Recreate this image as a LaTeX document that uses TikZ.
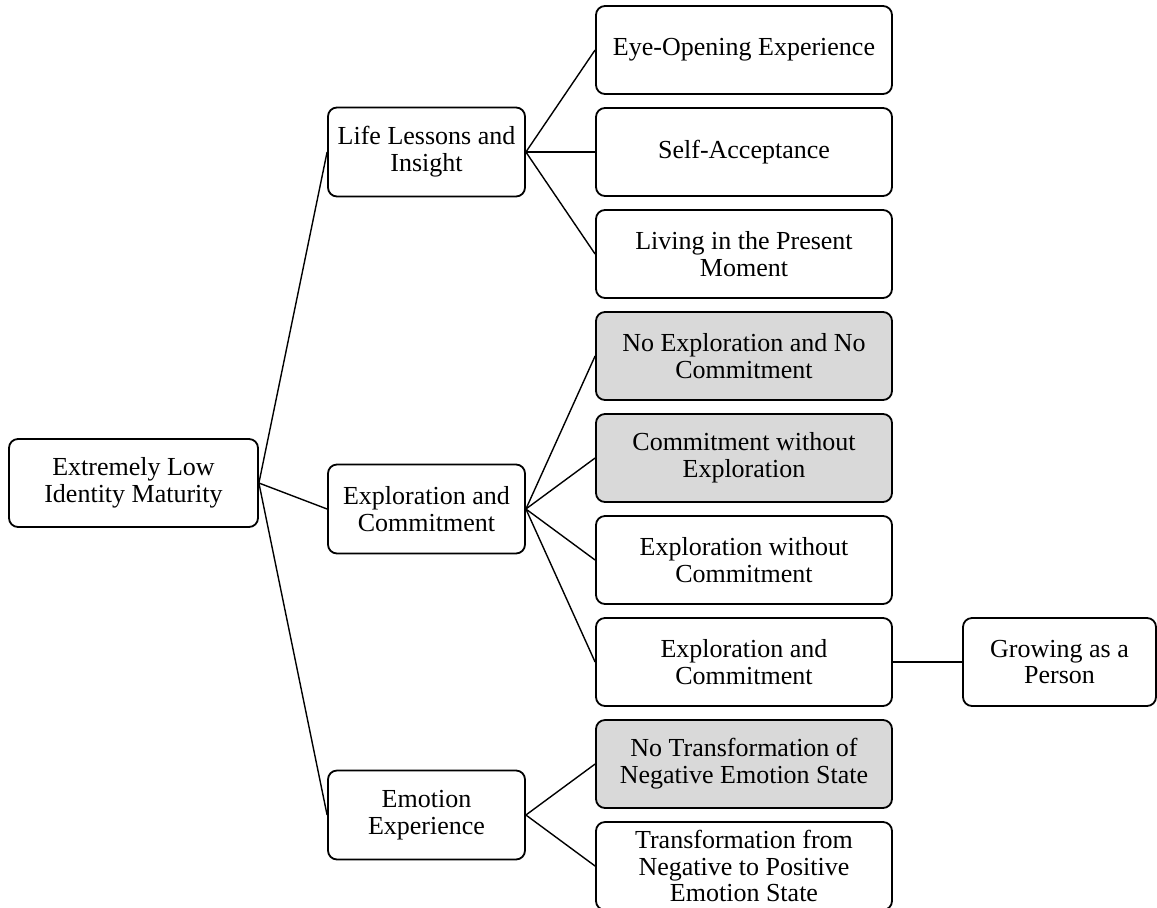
\documentclass[tikz,border=0pt]{standalone}
\usepackage{fontspec}
\setmainfont{Liberation Serif}
\usetikzlibrary{positioning}
\definecolor{shadegray}{RGB}{217, 217, 217}
\tikzstyle{box} = [rectangle, rounded corners=4.5pt, align=center, draw=black, line width=0.9pt, font=\fontsize{13}{13.4}\selectfont]
\tikzstyle{root} = [box, minimum width=124.5pt, minimum height=44pt]
\tikzstyle{theme} = [box, minimum width=98.5pt, minimum height=44.5pt]
\tikzstyle{leaf} = [box, minimum width=148pt, minimum height=44pt]
\tikzstyle{shaded} = [leaf, fill=shadegray]
\tikzstyle{link} = [line width=0.7pt]

\begin{document}
\begin{tikzpicture}[x=0.5pt, y=-0.5pt, node distance=51pt]
\useasboundingbox (0,0) rectangle (1157,907);

\node (maturity) [root] at (133.5,483) {Extremely Low\\Identity Maturity};

\node (lessons) [theme] at (426.5,152) {Life Lessons and\\Insight};
\node (explore) [theme] at (426.5,509) {Exploration and\\Commitment};
\node (emotion) [theme] at (426.5,815) {Emotion\\Experience};

\node (eyeopen) [leaf] at (744,50) {Eye-Opening Experience};
\node (accept) [leaf, below of=eyeopen] {Self-Acceptance};
\node (present) [leaf, below of=accept] {Living in the Present\\Moment};
\node (noexpnocom) [shaded, below of=present] {No Exploration and No\\Commitment};
\node (comnoexp) [shaded, below of=noexpnocom] {Commitment without\\Exploration};
\node (expnocom) [leaf, below of=comnoexp] {Exploration without\\Commitment};
\node (expcom) [leaf, below of=expnocom] {Exploration and\\Commitment};
\node (notrans) [shaded, below of=expcom] {No Transformation of\\Negative Emotion State};
\node (trans) [leaf, below of=notrans] {Transformation from\\Negative to Positive\\Emotion State};

\node (growing) [box, minimum width=96.5pt, minimum height=44pt, right of=expcom, xshift=106.75pt] {Growing as a\\Person};

% Links
\draw [link] (maturity.east) -- (lessons.west);
\draw [link] (maturity.east) -- (explore.west);
\draw [link] (maturity.east) -- (emotion.west);
\draw [link] (lessons.east) -- (eyeopen.west);
\draw [link] (lessons.east) -- (accept.west);
\draw [link] (lessons.east) -- (present.west);
\draw [link] (explore.east) -- (noexpnocom.west);
\draw [link] (explore.east) -- (comnoexp.west);
\draw [link] (explore.east) -- (expnocom.west);
\draw [link] (explore.east) -- (expcom.west);
\draw [link] (emotion.east) -- (notrans.west);
\draw [link] (emotion.east) -- (trans.west);
\draw [link] (expcom.east) -- (growing.west);

\end{tikzpicture}
\end{document}
